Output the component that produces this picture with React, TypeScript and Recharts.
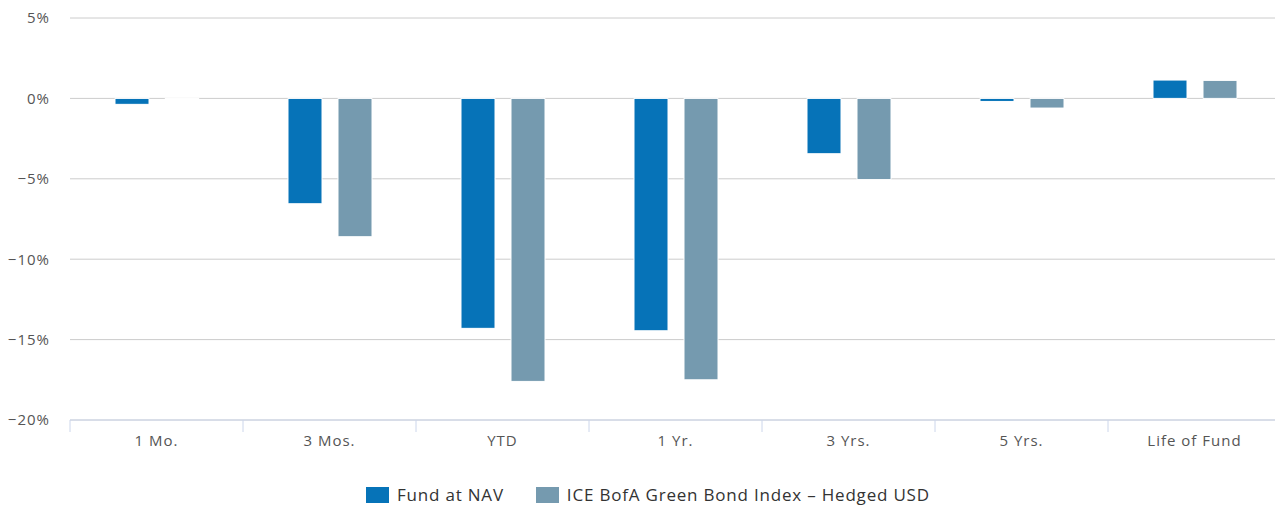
import React from 'react';
import { BarChart, Bar, XAxis, YAxis, CartesianGrid } from 'recharts';

const categories = ['1 Mo.', '3 Mos.', 'YTD', '1 Yr.', '3 Yrs.', '5 Yrs.', 'Life of Fund'];
const fundValues = [-0.37, -6.55, -14.3, -14.45, -3.44, -0.19, 1.14];
const indexValues = [-0.02, -8.6, -17.6, -17.5, -5.05, -0.6, 1.12];
const yTicks = [-20, -15, -10, -5, 0, 5];
const seriesNames = ['Fund at NAV', 'ICE BofA Green Bond Index – Hedged USD'];
const seriesColors = ['#0673b8', '#759aaf'];

const data = categories.map((c, i) => ({ name: c, fund: fundValues[i], index: indexValues[i] }));

const FONT = '"Open Sans", sans-serif';

const fmtY = (v: number) => (v < 0 ? '\u2212' + Math.abs(v) : String(v)) + '%';

const XTick = (props: any) => {
  const { x, y, payload, index, visibleTicksCount } = props;
  const off = payload.offset || 0;
  const last = index === (visibleTicksCount ?? categories.length) - 1;
  return (
    <g>
      <line x1={x - off} x2={x - off} y1={y} y2={y + 12} stroke="#ccd6eb" strokeWidth={1} />
      {last && <line x1={x + off - 0.5} x2={x + off - 0.5} y1={y} y2={y + 12} stroke="#ccd6eb" strokeWidth={1} />}
      <text x={x} y={y + 26} textAnchor="middle" fill="#555" fontSize={15} letterSpacing={1} fontFamily={FONT}>
        {payload.value}
      </text>
    </g>
  );
};

export default function App() {
  return (
    <div style={{ position: 'absolute', left: 0, top: 0, width: 1275, height: 506, background: '#fff', overflow: 'hidden' }}>
      <BarChart
        width={1281}
        height={506}
        data={data}
        margin={{ top: 18, right: 0, left: 0, bottom: 56 }}
        barSize={34}
        barGap={16}
      >
        <CartesianGrid vertical={false} stroke="#cccccc" />
        <XAxis
          dataKey="name"
          height={30}
          tickLine={false}
          tickSize={0}
          tickMargin={0}
          axisLine={{ stroke: '#ccd6eb' }}
          tick={<XTick />}
          interval={0}
        />
        <YAxis
          width={70}
          domain={[-20, 5]}
          ticks={yTicks}
          tickFormatter={fmtY}
          axisLine={false}
          tickLine={false}
          tickSize={0}
          tickMargin={20}
          tick={{ fill: '#555', fontSize: 15, fontFamily: FONT, letterSpacing: 1 }}
        />
        <Bar dataKey="fund" name={seriesNames[0]} fill={seriesColors[0]} stroke="#fff" strokeWidth={1} isAnimationActive={false} />
        <Bar dataKey="index" name={seriesNames[1]} fill={seriesColors[1]} stroke="#fff" strokeWidth={1} isAnimationActive={false} />
      </BarChart>
      <div
        style={{
          position: 'absolute',
          left: 366,
          top: 483,
          display: 'flex',
          fontFamily: FONT,
          fontSize: 17,
          letterSpacing: 0.8,
          color: '#333',
          lineHeight: '24px',
          whiteSpace: 'nowrap',
        }}
      >
        {seriesNames.map((n, i) => (
          <div key={n} style={{ display: 'flex', alignItems: 'center', marginRight: i === 0 ? 32 : 0 }}>
            <span style={{ display: 'inline-block', width: 23, height: 16, background: seriesColors[i], marginRight: 8 }} />
            <span>{n}</span>
          </div>
        ))}
      </div>
    </div>
  );
}
